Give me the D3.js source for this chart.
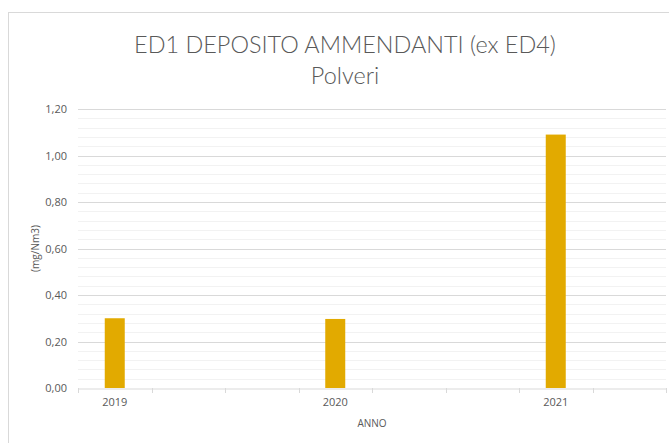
<!DOCTYPE html>
<html>
<head>
<meta charset="utf-8">
<script src="https://cdn.jsdelivr.net/npm/d3@7"></script>
<style>
  html, body { margin: 0; padding: 0; background: #fff; }
  svg { display: block; }
  text { font-family: "Open Sans", "Liberation Sans", sans-serif; fill: #595959; }
  .title { font-family: Lato, "Open Sans", sans-serif; font-weight: 300; }
</style>
</head>
<body>
<svg id="chart" width="669" height="443"></svg>
<script>
// Category slots along the x axis (only some carry a year label)
const slots = ["s0", "s1", "s2", "s3", "s4", "s5", "s6", "s7"];
const slotLabels = ["2019", "", "", "2020", "", "", "2021", ""];
// Measured dust values (mg/Nm3) per year
const years = ["2019", "2020", "2021"];
const values = [0.30, 0.297, 1.09];
const yTicks = [0, 0.2, 0.4, 0.6, 0.8, 1.0, 1.2];
const yMinorStep = 0.04;

const svg = d3.select("#chart");
const chartBox = { x: 8.5, y: 12.5, w: 674, h: 460 };
const plot = { left: 78, right: 666, top: 109, bottom: 388 };

// chart frame
svg.append("rect")
  .attr("x", chartBox.x).attr("y", chartBox.y)
  .attr("width", chartBox.w).attr("height", chartBox.h)
  .attr("fill", "#fff").attr("stroke", "#d9d9d9").attr("stroke-width", 1);

const x = d3.scaleBand().domain(slots).range([plot.left, plot.right]).paddingInner(0).paddingOuter(0);
const y = d3.scaleLinear().domain([0, 1.2]).range([plot.bottom, plot.top]);

// minor gridlines
const minor = d3.range(0, 1.2 + 1e-9, yMinorStep).filter(v => Math.abs(Math.round(v / 0.2) * 0.2 - v) > 1e-6);
svg.append("g").selectAll("line").data(minor).join("line")
  .attr("x1", plot.left).attr("x2", plot.right)
  .attr("y1", d => Math.round(y(d)) + 0.5).attr("y2", d => Math.round(y(d)) + 0.5)
  .attr("stroke", "#f2f2f2").attr("stroke-width", 1);

// major gridlines
svg.append("g").selectAll("line").data(yTicks.filter(v => v > 0)).join("line")
  .attr("x1", plot.left).attr("x2", plot.right)
  .attr("y1", d => Math.round(y(d)) + 0.5).attr("y2", d => Math.round(y(d)) + 0.5)
  .attr("stroke", "#d9d9d9").attr("stroke-width", 1);

// y axis labels
const fmt = v => v.toFixed(2).replace(".", ",");
svg.append("g").selectAll("text").data(yTicks).join("text")
  .attr("x", 67).attr("y", d => y(d) + 4)
  .attr("text-anchor", "end").attr("font-size", 11)
  .text(fmt);

// bars
const barW = 20;
const slotOf = yr => slots[slotLabels.indexOf(yr)];
svg.append("g").selectAll("rect").data(years.map((yr, i) => ({ yr, v: values[i] }))).join("rect")
  .attr("x", d => x(slotOf(d.yr)) + x.bandwidth() / 2 - barW / 2)
  .attr("y", d => y(d.v))
  .attr("width", barW)
  .attr("height", d => y(0) - y(d.v))
  .attr("fill", "#E2AA00");

// x axis
const xAxis = d3.axisBottom(x)
  .tickValues(slots)
  .tickSize(0)
  .tickFormat((d, i) => slotLabels[i]);
const gx = svg.append("g").attr("transform", `translate(0,${plot.bottom + 0.5})`).call(xAxis);
gx.select(".domain").attr("stroke", "#d9d9d9");
gx.selectAll("text").attr("font-size", 11).attr("fill", "#595959").attr("dy", "1.35em").attr("font-family", null);
// boundary tick marks between category slots
const bounds = slots.map(s => x(s)).concat([plot.right]);
svg.append("g").selectAll("line").data(bounds).join("line")
  .attr("x1", d => Math.round(d) + 0.5).attr("x2", d => Math.round(d) + 0.5)
  .attr("y1", plot.bottom).attr("y2", plot.bottom + 5)
  .attr("stroke", "#d9d9d9");

// axis titles
svg.append("text")
  .attr("x", (plot.left + plot.right) / 2).attr("y", 427)
  .attr("text-anchor", "middle").attr("font-size", 10)
  .text("ANNO");
svg.append("text")
  .attr("transform", `translate(39,${(plot.top + plot.bottom) / 2}) rotate(-90)`)
  .attr("text-anchor", "middle").attr("font-size", 10)
  .text("(mg/Nm3)");

// title, sized so the first line spans ~422px
const t1 = svg.append("text").attr("class", "title")
  .attr("x", 345).attr("y", 53)
  .attr("text-anchor", "middle").attr("font-size", 24)
  .text("ED1 DEPOSITO AMMENDANTI (ex ED4)");
const len = t1.node().getComputedTextLength();
const fs = 24 * 422 / len;
t1.attr("font-size", fs);
svg.append("text").attr("class", "title")
  .attr("x", 345).attr("y", 84)
  .attr("text-anchor", "middle").attr("font-size", fs)
  .text("Polveri");
</script>
</body>
</html>
